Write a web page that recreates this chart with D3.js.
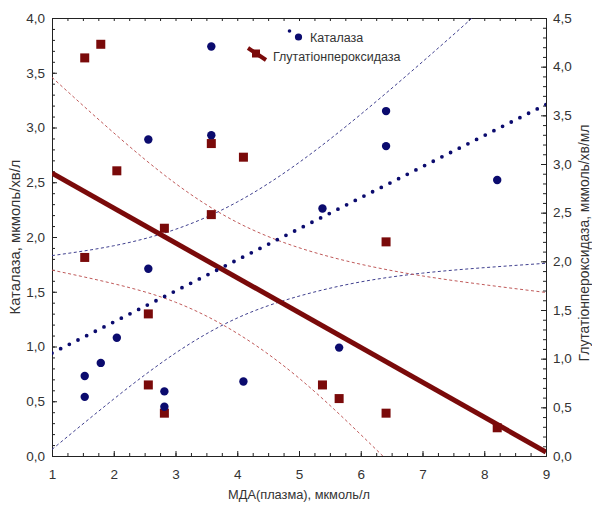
<!DOCTYPE html>
<html><head><meta charset="utf-8">
<script src="https://cdn.jsdelivr.net/npm/d3@7"></script>
<style>
body{margin:0;background:#fff;}
text{font-family:Arial,"Liberation Sans",sans-serif;fill:#333;}
</style></head>
<body><svg id="c" width="592" height="506"></svg>
<script>
// ---- data ----
const catX = [1.53,1.53,1.79,2.05,2.56,2.56,2.82,2.82,3.58,3.58,4.10,5.38,5.65,6.41,6.41,8.21];
const catY = [0.73,0.54,0.85,1.08,1.71,2.89,0.59,0.45,3.74,2.93,0.68,2.26,0.99,3.15,2.83,2.52];
const gpxX = [1.53,1.53,1.79,2.05,2.56,2.56,2.82,2.82,3.58,3.58,4.10,5.38,5.65,6.41,6.41,8.21];
const gpxY = [4.09,2.04,4.23,2.93,1.46,0.73,2.34,0.44,3.21,2.48,3.07,0.73,0.59,0.44,2.20,0.29];
// regression lines (end points at x=1 and x=9)
const fitX = [1, 9];
const catFit = [0.94, 3.21];
const gpxFit = [2.905, 0.041];
// confidence bands sampled at x = 1..9
const bandX = [1,2,3,4,5,6,7,8,9];
const catUpper = [1.83,1.92,2.07,2.32,2.68,3.12,3.60,4.10,4.62];
const catLower = [0.06,0.52,0.94,1.26,1.46,1.59,1.67,1.72,1.76];
const gpxUpper = [3.89,3.32,2.80,2.40,2.14,1.97,1.85,1.76,1.68];
const gpxLower = [1.91,1.77,1.58,1.26,0.80,0.22,-0.40,-1.02,-1.65];
// ticks
const xTicks = [1,2,3,4,5,6,7,8,9];
const yLeftTicks = [0,0.5,1,1.5,2,2.5,3,3.5,4];
const yRightTicks = [0,0.5,1,1.5,2,2.5,3,3.5,4,4.5];
const labels = {x:"МДА(плазма), мкмоль/л", yl:"Каталаза, мкмоль/хв/л", yr:"Глутатіонпероксидаза, мкмоль/хв/мл"};
const seriesNames = ["Каталаза","Глутатіонпероксидаза"];

// ---- drawing ----
const svg = d3.select("#c");
const L=52, R=546, T=18, B=456;
const x = d3.scaleLinear().domain([1,9]).range([L,R]);
const yl = d3.scaleLinear().domain([0,4]).range([B,T]);
const yr = d3.scaleLinear().domain([0,4.5]).range([B,T]);
const fmt = d => d3.format(".1f")(d).replace(".", ",");
const blue = "#0b0b6e", red = "#7a0a0a";

svg.append("clipPath").attr("id","clip").append("rect")
  .attr("x",L).attr("y",T).attr("width",R-L).attr("height",B-T);

// axes
const axColor = "#222";
function style(g){ g.selectAll("path").attr("stroke",axColor); g.selectAll("line").attr("stroke",axColor); g.selectAll("text").attr("font-size",13.5).attr("fill","#333"); }
// minor ticks
svg.append("g").attr("transform",`translate(0,${B})`)
  .call(d3.axisBottom(x).tickValues(d3.range(1,9.01,0.25)).tickSize(-3).tickFormat("").tickSizeOuter(0)).call(style);
svg.append("g").attr("transform",`translate(0,${T})`)
  .call(d3.axisTop(x).tickValues(d3.range(1,9.01,0.25)).tickSize(-3).tickFormat("").tickSizeOuter(0)).call(style);
svg.append("g").attr("transform",`translate(${L},0)`)
  .call(d3.axisLeft(yl).tickValues(d3.range(0,4.001,0.1)).tickSize(-3).tickFormat("").tickSizeOuter(0)).call(style);
svg.append("g").attr("transform",`translate(${R},0)`)
  .call(d3.axisRight(yr).tickValues(d3.range(0,4.501,0.1)).tickSize(-3).tickFormat("").tickSizeOuter(0)).call(style);
// major labels
svg.append("g").attr("transform",`translate(0,${B})`)
  .call(d3.axisBottom(x).tickValues(xTicks).tickSize(-5).tickPadding(13).tickFormat(d3.format("d")).tickSizeOuter(0)).call(style);
svg.append("g").attr("transform",`translate(${L},0)`)
  .call(d3.axisLeft(yl).tickValues(yLeftTicks).tickSize(-5).tickPadding(7).tickFormat(fmt).tickSizeOuter(0)).call(style);
svg.append("g").attr("transform",`translate(${R},0)`)
  .call(d3.axisRight(yr).tickValues(yRightTicks).tickSize(-5).tickPadding(7).tickFormat(fmt).tickSizeOuter(0)).call(style);

// axis titles (font size chosen so that text spans the same length as in the reference)
function fitText(sel, target){
  const len = sel.node().getComputedTextLength();
  const fs = parseFloat(sel.attr("font-size"));
  sel.attr("font-size", (fs*target/len).toFixed(2));
}
fitText(svg.append("text").attr("x",(L+R)/2).attr("y",499).attr("text-anchor","middle").attr("font-size",12.5).text(labels.x), 142);
fitText(svg.append("text").attr("transform",`translate(20,${237}) rotate(-90)`).attr("text-anchor","middle").attr("font-size",12.5).text(labels.yl), 155);
fitText(svg.append("text").attr("transform",`translate(589,${243}) rotate(-90)`).attr("text-anchor","middle").attr("font-size",12.5).text(labels.yr), 237);

const plot = svg.append("g").attr("clip-path","url(#clip)");

// bands
function band(vals, ys, color){
  const line = d3.line().x((d,i)=>x(bandX[i])).y(d=>ys(d)).curve(d3.curveNatural);
  plot.append("path").attr("d",line(vals)).attr("fill","none").attr("stroke",color)
    .attr("stroke-width",1).attr("stroke-dasharray","3,2.5");
}
band(catUpper, yl, "#40408f");
band(catLower, yl, "#40408f");
band(gpxUpper, yr, "#c05a5a");
band(gpxLower, yr, "#c05a5a");

// fits
const fitLine = ys => d3.line().x((d,i)=>x(fitX[i])).y(d=>ys(d));
plot.append("path").attr("d",fitLine(yr)(gpxFit)).attr("fill","none").attr("stroke",red).attr("stroke-width",5);
plot.append("path").attr("d",fitLine(yl)(catFit)).attr("fill","none").attr("stroke",blue)
  .attr("stroke-width",3.8).attr("stroke-linecap","round").attr("stroke-dasharray","0,9.7");

// points
const sq = 9;
plot.selectAll(".g").data(gpxX).enter().append("rect")
  .attr("x",(d,i)=>x(d)-sq/2).attr("y",(d,i)=>yr(gpxY[i])-sq/2).attr("width",sq).attr("height",sq).attr("fill",red);
plot.selectAll(".c").data(catX).enter().append("circle")
  .attr("cx",d=>x(d)).attr("cy",(d,i)=>yl(catY[i])).attr("r",4.2).attr("fill",blue);

// legend
const lg = svg.append("g");
lg.append("circle").attr("cx",289.5).attr("cy",31).attr("r",1.8).attr("fill",blue);
lg.append("circle").attr("cx",298.5).attr("cy",37).attr("r",3.6).attr("fill",blue);
lg.append("text").attr("x",310).attr("y",41.5).attr("font-size",12.5).text(seriesNames[0]);
lg.append("line").attr("x1",248).attr("y1",48).attr("x2",266).attr("y2",60).attr("stroke",red).attr("stroke-width",4);
lg.append("rect").attr("x",252).attr("y",49.5).attr("width",8).attr("height",8).attr("fill",red);
lg.append("text").attr("x",273).attr("y",60.5).attr("font-size",12.5).text(seriesNames[1]);
</script></body></html>
